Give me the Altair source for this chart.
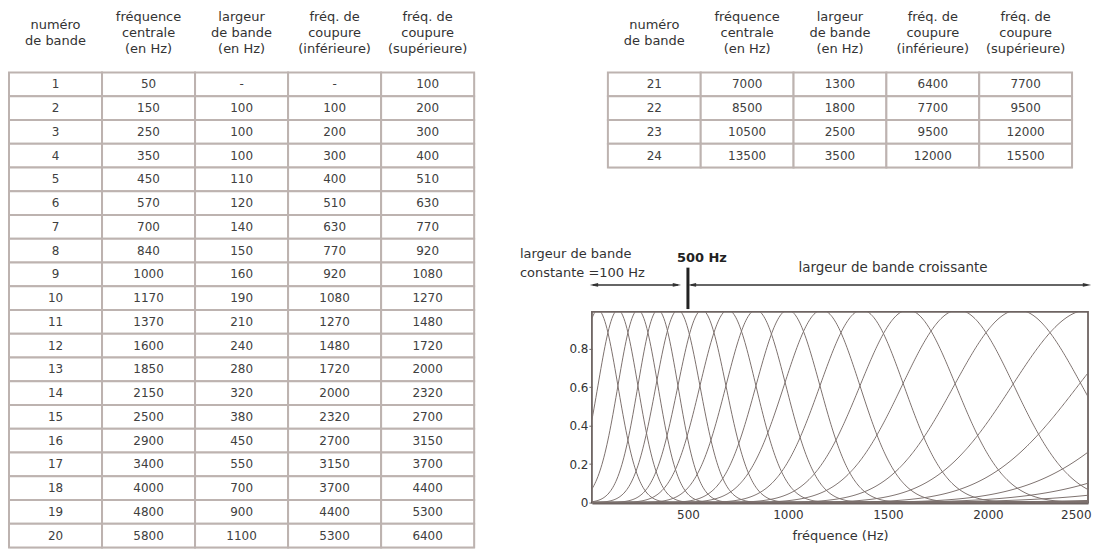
import altair as alt
import pandas as pd
import numpy as np

FONT = "DejaVu Sans"

# ---------------- table data ----------------
headers = ["numéro|de bande", "fréquence|centrale|(en Hz)", "largeur|de bande|(en Hz)",
           "fréq. de|coupure|(inférieure)", "fréq. de|coupure|(supérieure)"]

bands_1 = list(range(1, 21))
centre_1 = [50, 150, 250, 350, 450, 570, 700, 840, 1000, 1170, 1370, 1600, 1850, 2150,
            2500, 2900, 3400, 4000, 4800, 5800]
largeur_1 = ["-", 100, 100, 100, 110, 120, 140, 150, 160, 190, 210, 240, 280, 320, 380,
             450, 550, 700, 900, 1100]
inf_1 = ["-", 100, 200, 300, 400, 510, 630, 770, 920, 1080, 1270, 1480, 1720, 2000, 2320,
         2700, 3150, 3700, 4400, 5300]
sup_1 = [100, 200, 300, 400, 510, 630, 770, 920, 1080, 1270, 1480, 1720, 2000, 2320, 2700,
         3150, 3700, 4400, 5300, 6400]

bands_2 = [21, 22, 23, 24]
centre_2 = [7000, 8500, 10500, 13500]
largeur_2 = [1300, 1800, 2500, 3500]
inf_2 = [6400, 7700, 9500, 12000]
sup_2 = [7700, 9500, 12000, 15500]

# ---------------- filter bank (shape: gaussian, sigma ~ bandwidth) ----
curve_centre = centre_1 + centre_2
curve_width = [100] + largeur_1[1:] + largeur_2
freq_axis = np.arange(20, 2501, 5)

curve_rows = []
for b, (fc, bw) in enumerate(zip(curve_centre, curve_width), start=1):
    g = np.exp(-0.5 * ((freq_axis - fc) / bw) ** 2)
    for f, v in zip(freq_axis, g):
        curve_rows.append({"band": b, "f": float(f), "g": float(v)})
curve_df = pd.DataFrame(curve_rows)

TXT = "#404040"
GRID = "#bdb3b0"
FRAME = "#6e6462"
CURVE = "#7d716e"


def make_table(cols, width, height):
    rows = []
    n = len(cols[0])
    for i in range(n):
        for h, col in zip(headers, cols):
            rows.append({"row": i, "col": h, "val": str(col[i])})
    df = pd.DataFrame(rows)
    x = alt.X("col:N", sort=headers,
              scale=alt.Scale(paddingInner=0, paddingOuter=0),
              axis=alt.Axis(orient="top", title=None, labelAngle=0,
                            labelExpr="split(datum.label, '|')",
                            labelBaseline="middle", labelAlign="center",
                            labelPadding={"condition": {"test": "datum.value === 'numéro|de bande'",
                                                        "value": 48},
                                          "value": 56},
                            labelLineHeight=16,
                            labelFontSize=13, labelColor="#333", labelFont=FONT,
                            domain=False, ticks=False, labelLimit=0))
    y = alt.Y("row:O", scale=alt.Scale(paddingInner=0, paddingOuter=0), axis=None)
    base = alt.Chart(df).encode(x=x, y=y)
    cells = base.mark_rect(fill="white", stroke=GRID, strokeWidth=2)
    txt = base.mark_text(fontSize=12, font=FONT, color=TXT).encode(text="val:N")
    return alt.layer(cells, txt).properties(width=width, height=height)


table1 = make_table([bands_1, centre_1, largeur_1, inf_1, sup_1], 466, 476)
table2 = make_table([bands_2, centre_2, largeur_2, inf_2, sup_2], 465, 95.2)

# ---------------- plot ----------------
xs = alt.Scale(domain=[20, 2500], nice=False, zero=False)
ys = alt.Scale(domain=[0, 0.99], nice=False, zero=False)

curves = alt.Chart(curve_df).mark_line(color=CURVE, strokeWidth=1, clip=True).encode(
    x=alt.X("f:Q", scale=xs,
            axis=alt.Axis(values=[500, 1000, 1500, 2000, 2500], format="d",
                          title="fréquence (Hz)",
                          ticks=False, domain=True, domainColor=FRAME, domainWidth=3,
                          grid=False, labelFontSize=12,
                          labelColor="#333", labelFont=FONT, labelPadding=7,
                          labelFlush=True, labelFlushOffset=3,
                          titleFontSize=13, titleFontWeight="normal",
                          titleColor="#333", titleFont=FONT, titlePadding=9)),
    y=alt.Y("g:Q", scale=ys,
            axis=alt.Axis(values=[0, 0.2, 0.4, 0.6, 0.8], format="~g", title=None,
                          grid=False, domain=False, tickSize=3, tickColor=FRAME,
                          labelFontSize=12, labelColor="#333", labelFont=FONT,
                          labelPadding=1)),
    detail="band:N",
)

# annotations (in data units of the plot)
ann_x = [-340, -340, 1525]
ann_y = [1.29, 1.19, 1.22]
ann_t = ["largeur de bande", "constante =100 Hz", "largeur de bande croissante"]
ann_a = ["left", "left", "center"]
ann_df = pd.DataFrame({"x": ann_x, "y": ann_y, "t": ann_t, "a": ann_a})

ann_left = alt.Chart(ann_df[ann_df.a == "left"]).mark_text(
    align="left", baseline="middle", fontSize=13, font=FONT, color="#333", clip=False
).encode(x=alt.X("x:Q", scale=xs), y=alt.Y("y:Q", scale=ys), text="t:N")
ann_center = alt.Chart(ann_df[ann_df.a == "center"]).mark_text(
    align="center", baseline="middle", fontSize=13.5, font=FONT, color="#333", clip=False
).encode(x=alt.X("x:Q", scale=xs), y=alt.Y("y:Q", scale=ys), text="t:N")

bold_df = pd.DataFrame({"x": [500], "y": [1.27], "t": ["500 Hz"]})
ann_bold = alt.Chart(bold_df).mark_text(
    align="center", baseline="middle", fontSize=13, fontWeight="bold", font=FONT,
    color="#222", dx=14, clip=False
).encode(x=alt.X("x:Q", scale=xs), y=alt.Y("y:Q", scale=ys), text="t:N")

bar_df = pd.DataFrame({"x": [500], "y": [1.005], "y2": [1.22]})
bar = alt.Chart(bar_df).mark_rule(strokeWidth=3, color="#222", clip=False).encode(
    x=alt.X("x:Q", scale=xs), y=alt.Y("y:Q", scale=ys), y2="y2:Q")

arrow_df = pd.DataFrame({"x": [25, 515], "x2": [450, 2495], "y": [1.13, 1.13]})
arrows = alt.Chart(arrow_df).mark_rule(strokeWidth=1.3, color="#333", clip=False).encode(
    x=alt.X("x:Q", scale=xs), x2="x2:Q", y=alt.Y("y:Q", scale=ys))

head_r_df = pd.DataFrame({"x": [445, 2495], "y": [1.13, 1.13]})
head_l_df = pd.DataFrame({"x": [30, 520], "y": [1.13, 1.13]})
head_r = alt.Chart(head_r_df).mark_point(
    shape="M1,0L-1,-0.45L-1,0.45Z", filled=True, size=70, color="#333", opacity=1, clip=False
).encode(x=alt.X("x:Q", scale=xs), y=alt.Y("y:Q", scale=ys))
head_l = alt.Chart(head_l_df).mark_point(
    shape="M-1,0L1,-0.45L1,0.45Z", filled=True, size=70, color="#333", opacity=1, clip=False
).encode(x=alt.X("x:Q", scale=xs), y=alt.Y("y:Q", scale=ys))

plot = alt.layer(curves, bar, arrows, head_r, head_l, ann_left, ann_center, ann_bold).properties(
    width=497, height=191,
    view=alt.ViewBackground(stroke=FRAME, strokeWidth=1.8),
)

right = alt.vconcat(table2, plot, spacing=144, center=True, bounds="flush")
chart = alt.hconcat(table1, right, spacing=118, bounds="flush").properties(
    padding={"left": -1, "top": 1, "right": 0, "bottom": 0}
).configure_view(stroke=None).configure(font=FONT)

chart.save("out.html", embed_options={"renderer": "svg", "actions": False})
